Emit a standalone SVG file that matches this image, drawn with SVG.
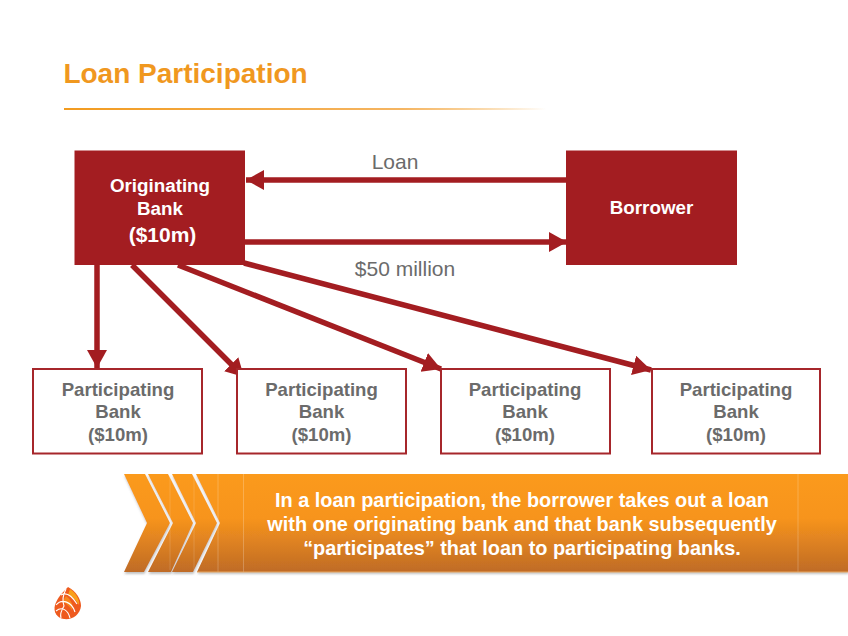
<svg xmlns="http://www.w3.org/2000/svg" width="848" height="636" viewBox="0 0 848 636">
<style>
text{font-family:"Liberation Sans",Arial,sans-serif;text-anchor:middle}
.f{fill:#a31d21}
.w{fill:#fff;font-weight:700;font-size:18.800px}
.g{fill:#6b6b6b;font-size:21px}
.p{fill:#6b6b6b;font-weight:700;font-size:18.600px}
.b{fill:#fff;stroke:#a6262b;stroke-width:2}
.c{stroke:#a31d21;stroke-width:5.500;fill:none;marker-end:url(#a)}
.t{fill:#fff;font-weight:700;font-size:19.900px}
.ch{fill:url(#o);filter:url(#s)}
</style>
<defs>
<marker id="a" markerUnits="userSpaceOnUse" markerWidth="20" markerHeight="21" refX="18" refY="10" orient="auto"><path d="M0 0L18 10L0 20Z" fill="#a31d21"/></marker>
<linearGradient id="o" x1="0" y1="0" x2="0" y2="1"><stop offset="0" stop-color="#fb9a1e"/><stop offset=".45" stop-color="#f7941d"/><stop offset="1" stop-color="#bf6b26"/></linearGradient>
<linearGradient id="l" x1="0" y1="0" x2="1" y2="0"><stop offset="0" stop-color="#f29b1f"/><stop offset=".7" stop-color="#f5b562"/><stop offset="1" stop-color="#f29b1f" stop-opacity="0"/></linearGradient>
<filter id="s" x="-5%" y="-5%" width="115%" height="112%"><feDropShadow dx="0.500" dy="2" stdDeviation="0.800" flood-color="#666" flood-opacity=".4"/></filter>
</defs>
<g id="title">
<text x="185.500" y="83" style="font-size:28px;font-weight:700;fill:#f0981f">Loan Participation</text>
<rect x="64" y="108" width="482" height="2" fill="url(#l)"/>
</g>
<g id="connectors">
<path class="c" d="M566 180H246"/>
<path class="c" d="M245 242H567"/>
<path class="c" d="M97 265V368"/>
<path class="c" d="M132 265L244 377"/>
<path class="c" d="M178 265L441 369"/>
<path class="c" d="M244 263L651 370"/>
</g>
<g id="loan-label"><text class="g" x="395" y="169">Loan</text></g>
<g id="amount-label"><text class="g" x="405" y="276">$50 million</text></g>
<g id="originating-bank">
<rect class="f" x="74.500" y="150.500" width="170.500" height="114.500"/>
<text class="w" x="160" y="192">Originating</text>
<text class="w" x="160" y="215">Bank</text>
<text class="w" x="162.500" y="242" style="font-size:21px">($10m)</text>
</g>
<g id="borrower">
<rect class="f" x="566" y="150.500" width="171" height="114.500"/>
<text class="w" x="651.500" y="214">Borrower</text>
</g>
<g id="participating-1">
<rect class="b" x="33" y="369" width="169" height="84.500"/>
<text class="p" x="118" y="396">Participating</text><text class="p" x="118" y="418">Bank</text><text class="p" x="118" y="441">($10m)</text>
</g>
<g id="participating-2">
<rect class="b" x="237" y="369" width="169" height="84.500"/>
<text class="p" x="321.500" y="396">Participating</text><text class="p" x="321.500" y="418">Bank</text><text class="p" x="321.500" y="441">($10m)</text>
</g>
<g id="participating-3">
<rect class="b" x="441" y="369" width="169" height="84.500"/>
<text class="p" x="525" y="396">Participating</text><text class="p" x="525" y="418">Bank</text><text class="p" x="525" y="441">($10m)</text>
</g>
<g id="participating-4">
<rect class="b" x="652" y="369" width="168" height="84.500"/>
<text class="p" x="736" y="396">Participating</text><text class="p" x="736" y="418">Bank</text><text class="p" x="736" y="441">($10m)</text>
</g>
<g id="callout">
<path class="ch" d="M196 474H848V572H197L220 523Z"/>
<path d="M218 474V572M243.500 474V572M798 474V572" stroke="#fff" stroke-opacity=".22" fill="none"/>
<path d="M197 572H848" stroke="#eaa860" stroke-width="1"/>
<path class="ch" d="M124 474H145L170 523L144 572H124L147 523Z"/>
<path class="ch" d="M148 474H168L193 523L171 572H148L173 523Z"/>
<path class="ch" d="M172 474H192L217 523L193 572H172L196 523Z"/>
<path d="M170 476V570M194 476V570" stroke="#fff" stroke-opacity=".15" fill="none"/>
<text class="t" x="522" y="507">In a loan participation, the borrower takes out a loan</text>
<text class="t" x="522" y="531">with one originating bank and that bank subsequently</text>
<text class="t" x="522" y="555">“participates” that loan to participating banks.</text>
</g>
<g id="logo">
<path d="M68 587C76 591 81 599 81 606C80 615 72 620 64 619C57 618 53 612 55 605C57 598 63 592 68 587Z" fill="#ee5a1e"/>
<path d="M70 589C76 593 80 600 79 605C76 600 72 596 68 595Z" fill="#f9a01b"/>
<path d="M66 596C70 599 74 604 72 610C69 606 66 603 62 602Z" fill="#f7851e"/>
<path d="M61 595C66 592 72 596 77 604M56 605C62 598 72 602 75 612M56 611C62 606 68 610 70 618M66 589C63 595 62 601 64 606C61 611 60 615 61 618" stroke="#fff" stroke-width="1.100" fill="none"/>
</g>
</svg>
